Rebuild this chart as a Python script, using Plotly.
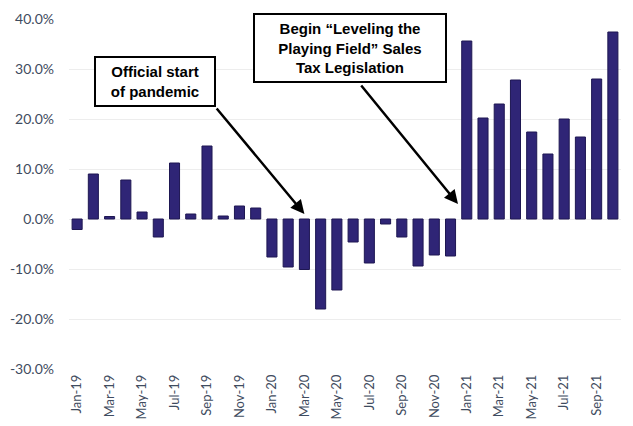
import plotly.graph_objects as go

# Monthly year-over-year change, Jan-19 through Oct-21 (percent)
months = [
    "Jan-19", "Feb-19", "Mar-19", "Apr-19", "May-19", "Jun-19",
    "Jul-19", "Aug-19", "Sep-19", "Oct-19", "Nov-19", "Dec-19",
    "Jan-20", "Feb-20", "Mar-20", "Apr-20", "May-20", "Jun-20",
    "Jul-20", "Aug-20", "Sep-20", "Oct-20", "Nov-20", "Dec-20",
    "Jan-21", "Feb-21", "Mar-21", "Apr-21", "May-21", "Jun-21",
    "Jul-21", "Aug-21", "Sep-21", "Oct-21",
]
change_pct = [
    -2.1, 9.0, 0.5, 7.8, 1.4, -3.6, 11.2, 1.0, 14.6, 0.6, 2.6, 2.2,
    -7.6, -9.6, -10.1, -18.0, -14.2, -4.6, -8.8, -1.0, -3.6, -9.4, -7.2, -7.4,
    35.6, 20.2, 23.0, 27.8, 17.4, 13.0, 20.0, 16.4, 28.0, 37.4,
]
x_tick_labels = months[::2]
y_ticks = [-30, -20, -10, 0, 10, 20, 30, 40]
y_tick_labels = [f"{v:.1f}%" for v in y_ticks]

fig = go.Figure()
fig.add_trace(go.Bar(
    x=months,
    y=change_pct,
    marker=dict(color="#2f2576", line=dict(color="#1e1752", width=1)),
))

label_font = dict(family="Liberation Sans, Arial, sans-serif", size=15, color="black")

# Callout boxes
fig.add_annotation(
    x=4.8, y=27.6, xref="x", yref="y",
    text="<b>Official start<br>of pandemic</b>",
    showarrow=False, font=label_font, align="center",
    bgcolor="white", bordercolor="black", borderwidth=2, borderpad=3,
    width=112, height=41,
)
fig.add_annotation(
    x=16.8, y=34.2, xref="x", yref="y",
    text="<b>Begin \u201cLeveling the<br>Playing Field\u201d Sales<br>Tax Legislation</b>",
    showarrow=False, font=label_font, align="center",
    bgcolor="white", bordercolor="black", borderwidth=2, borderpad=3,
    width=184, height=60,
)

# Pointer arrows
fig.add_annotation(
    x=14.0, y=1.0, xref="x", yref="y", text="",
    showarrow=True, ax=-89, ay=-107, axref="pixel", ayref="pixel",
    arrowhead=2, arrowsize=1.1, arrowwidth=2.5, arrowcolor="black",
)
fig.add_annotation(
    x=23.46, y=3.0, xref="x", yref="y", text="",
    showarrow=True, ax=-98, ay=-120, axref="pixel", ayref="pixel",
    arrowhead=2, arrowsize=1.1, arrowwidth=2.5, arrowcolor="black",
)

tick_font = dict(family="Lato, Liberation Sans, sans-serif", color="#3f4c60")

fig.update_layout(
    width=633, height=426,
    margin=dict(l=69, r=12, t=19, b=57, autoexpand=False),
    paper_bgcolor="white", plot_bgcolor="white",
    showlegend=False,
    bargap=0.38,
    xaxis=dict(
        type="category",
        range=[-0.5, len(months) - 0.5],
        tickmode="array", tickvals=x_tick_labels, ticktext=x_tick_labels,
        tickangle=-90, tickfont=dict(size=13, **tick_font),
        showgrid=False, showline=False, ticks="",
        ticklabelstandoff=2, automargin=False,
    ),
    yaxis=dict(
        range=[-30, 40],
        tickmode="array", tickvals=y_ticks, ticktext=y_tick_labels,
        tickfont=dict(size=14, **tick_font),
        showgrid=True, gridcolor="#ededed", gridwidth=1,
        zeroline=False, showline=False, ticks="",
        ticklabelstandoff=14, automargin=False,
    ),
)

fig.write_html("out.html")
